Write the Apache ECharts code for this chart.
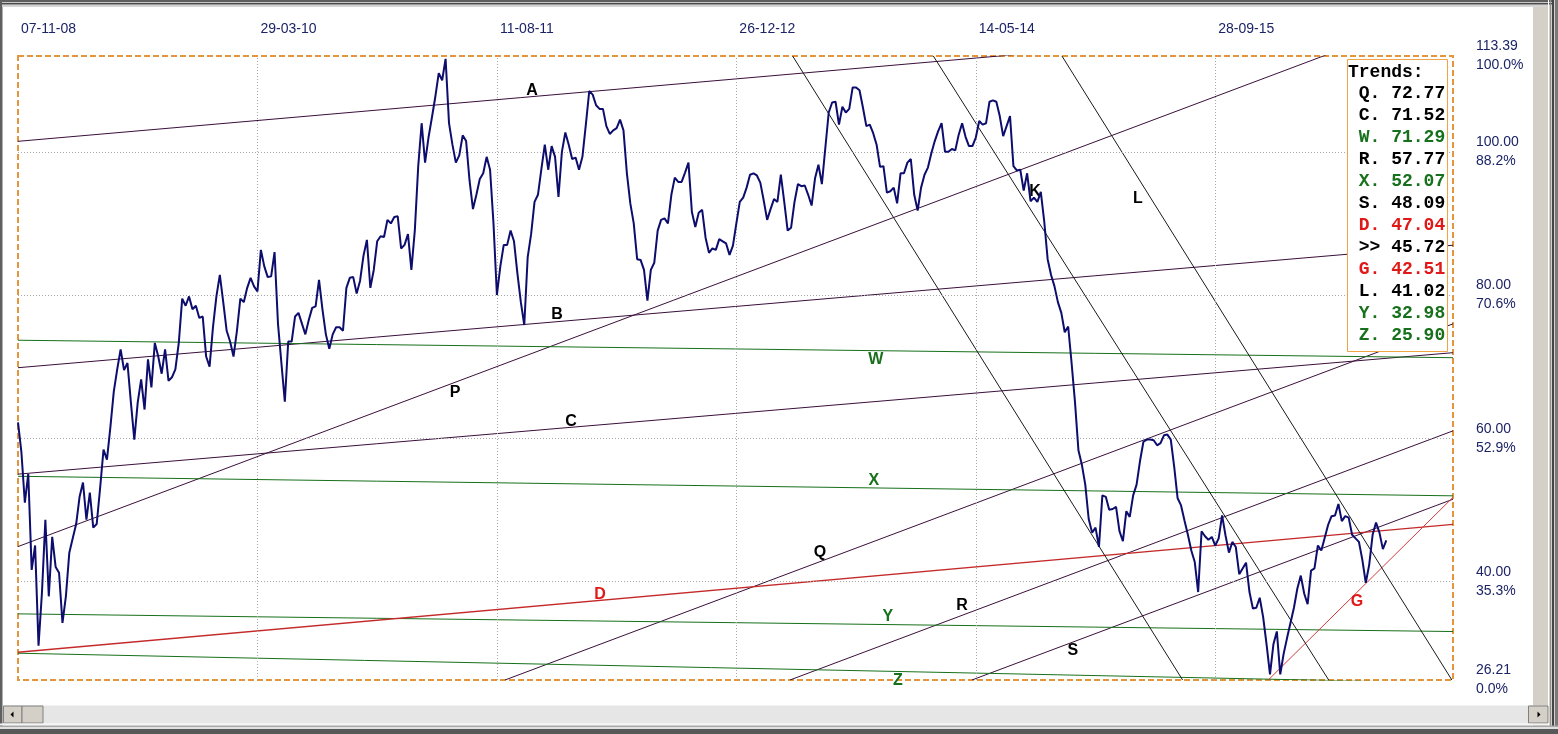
<!DOCTYPE html>
<html><head><meta charset="utf-8">
<script src="https://cdn.jsdelivr.net/npm/echarts@6/dist/echarts.min.js"></script>
<style>html,body{margin:0;padding:0;background:#fff;}#c{width:1558px;height:734px;}</style>
</head><body><div id="c"></div>
<script>
// ---- data ----
const xTickValues = [0, 70, 140, 210, 280, 350];            // weeks from start
const xTickLabels = ['07-11-08', '29-03-10', '11-08-11', '26-12-12', '14-05-14', '28-09-15'];
const yTickValues = [26.21, 40, 60, 80, 100, 113.39];
const yTickPct = ['0.0%', '35.3%', '52.9%', '70.6%', '88.2%', '100.0%'];

// weekly closes
const prices = [
62.2,58,51,55,41.6,45,31,38.4,48.6,37.9,
46.2,42,41.2,34.2,37.9,44,46,48,51.8,53.8,
48.6,52.4,47.5,48,53,58.4,57,61.5,66.5,69.6,
72.4,69.5,70.5,65,59.8,65,68.2,64,71,67.1,
73.3,71.4,69,72.4,68,68.5,69.6,73.3,79.5,78.5,
79.8,78,78.5,76.8,77,71.4,70,75.5,79.8,82.8,
79,75,73.5,71.4,75,79.5,79,81,82.4,81.2,
80.5,86.3,84,82.5,82.6,86,76,70.5,65.1,73.5,
73.5,77,77.5,76,74.5,76.5,78.2,78.4,82.1,78,
74.5,72.5,74.5,75.5,75.5,75,81,82.4,82.5,80.2,
82,85.5,87.7,81,83.5,87.5,88.2,88.1,90.5,90,
90.9,91,86.5,87,88.5,83.5,89,98,104,98.5,
102,104.8,107.7,111,110,113,104,101,98.5,99.5,
102.3,101.5,96,92,94,96.2,97,99.3,97.5,90,
80,84,87,87,89,87.5,83,79,75.8,85.3,
88.5,93,94,97.6,101,97.5,100.8,99.3,93.7,100,
102.7,101,99,99.2,97.5,99.3,103.8,108.5,108,106.5,
106,106,103.6,102.5,103,103.3,104.5,103,97,92.8,
90,85,84.9,83.5,79.2,83.5,84.5,89,90.5,90.7,
90,94,96.4,95.8,95.8,97.1,98.5,91.6,89.5,91.5,
91.9,88,85.9,86.5,86.3,87.8,87.5,87.2,85.6,86.9,
90,93,93.6,95,96.8,97,96.7,95.7,93.2,90.5,
92,93.4,93,96.8,93,89,89.4,93,95.5,95.2,
95.3,94,92.5,96.3,98.2,95.5,100.5,105.5,106.9,107,
103.8,106.3,105.5,106,109,109,108.6,106.2,103.6,103.8,
102.6,101,97.9,98,94.3,94.5,95,92.8,97,97,
98.5,99,94,91.8,95,96.8,97.8,99.8,101.5,102.9,
104,100,100,100.4,100.2,102.4,104,102.1,100.8,100.8,
102,104.3,103.8,104,107,107.2,107,105,102.2,103.6,
105,98,97.4,97.5,94.6,97,93.1,93.6,93,94.4,
90.3,85,82.8,81.2,79,77.5,74.8,75.6,70.5,65,
58.3,56.3,53.5,48.7,46.8,47.5,44.8,52,51.8,50,
50.1,50.4,47,45.6,49.8,49,52,53.5,56.8,59.5,
59.8,59.8,59.7,59,59.3,60.4,60.5,59.8,56,51.6,
50.6,48.5,46.5,44.3,42.7,38.5,47,46.3,45.8,46.2,
45,46,49.2,46.4,44,45.5,44.8,41,41.8,42.6,
38.5,36.2,36.3,37.7,35,31.2,27,31.2,33,27,
29.9,32.1,34.2,36.3,39,40.8,38.3,36.8,41.5,41.8,
45,44.3,46.1,47.9,49.1,49.2,50.8,48.4,49.1,48.9,
46.5,46,45.5,43,39.8,42.3,46.5,48.2,46.8,44.5,
45.72
];

// trend lines: [name, week0, value0, week1, value1]
const trendLines = [
  ['A', 0, 101.47, 419.5, 118.9],
  ['B', 0, 69.84, 419.5, 86.95],
  ['C', 0, 54.97, 419.5, 71.94],
  ['P', 0, 44.85, 419.5, 120.2],
  ['Q', 142.36, 26.21, 419.5, 75.97],
  ['R', 225.67, 26.21, 419.5, 61.02],
  ['S', 278.87, 26.21, 419.5, 51.47],
  ['W', 0, 73.68, 419.5, 71.24],
  ['X', 0, 54.67, 419.5, 51.94],
  ['Y', 0, 35.45, 419.5, 32.98],
  ['Z', 0, 29.95, 419.5, 25.79],
  ['D', 0, 30.09, 419.5, 47.96],
  ['G', 365.5, 26.21, 419.5, 51.73],
  ['J', 226.45, 113.39, 340.46, 26.21],
  ['K', 267.58, 113.39, 383.16, 26.21],
  ['L', 305.18, 113.39, 419.18, 26.21]
];

// line name labels: [text, week, value]
const lineLabels = [
  ['A', 150.25, 108.52], ['B', 157.56, 77.24], ['P', 127.74, 66.35], ['C', 161.65, 62.30],
  ['W', 250.80, 70.96], ['X', 250.22, 54.07], ['Q', 234.44, 44.01], ['D', 170.13, 38.15],
  ['Y', 254.31, 35.08], ['R', 275.94, 36.61], ['Z', 257.23, 26.14], ['S', 308.39, 30.33],
  ['L', 327.39, 93.44], ['G', 391.41, 37.17], ['K', 297.28, 94.42]
];

// "Trends:" panel
const trendNames = ['Q', 'C', 'W', 'R', 'X', 'S', 'D', '>>', 'G', 'L', 'Y', 'Z'];
const trendValues = [72.77, 71.52, 71.29, 57.77, 52.07, 48.09, 47.04, 45.72, 42.51, 41.02, 32.98, 25.90];

// ---- styles ----
const NAVY = '#1c2466';
const GREEN = '#17701b';
const RED = '#e01818';
const PURPLE = '#3a0f3a';
const BLACK = '#1a1a1a';
function lineColor(n) {
  if (['W', 'X', 'Y', 'Z'].includes(n)) return GREEN;
  if (n === 'D') return '#c42a2a';
  if (n === 'G') return '#d23a3a';
  if (['J', 'K', 'L'].includes(n)) return BLACK;
  return PURPLE;
}
function textColor(n) {
  if (['W', 'X', 'Y', 'Z'].includes(n)) return GREEN;
  if (n === 'D' || n === 'G') return RED;
  return '#000';
}

const chart = echarts.init(document.getElementById('c'), null, {renderer: 'canvas'});

const series = [];
// grid lines
series.push({
  type: 'line', data: [[0, 26.21]], showSymbol: false, silent: true, z: 1,
  lineStyle: {opacity: 0},
  markLine: {
    silent: true, symbol: 'none', animation: false, label: {show: false},
    lineStyle: {color: '#a8a8a8', type: [1, 2], width: 1},
    data: yTickValues.slice(1, -1).map(v => ({yAxis: v}))
      .concat(xTickValues.slice(1).map(v => ({xAxis: v})))
  }
});
trendLines.forEach(t => {
  series.push({
    type: 'line', name: t[0], data: [[t[1], t[2]], [t[3], t[4]]],
    showSymbol: false, symbol: 'none', clip: true, silent: true, z: 3,
    lineStyle: {width: t[0] === 'D' ? 1.3 : 1, color: lineColor(t[0])}
  });
});
series.push({
  type: 'scatter', data: lineLabels.map(l => ({name: l[0], value: [l[1], l[2]],
    label: {color: textColor(l[0])}})),
  symbolSize: 1, itemStyle: {color: 'rgba(255,255,255,0)'}, clip: false, silent: true, z: 4,
  label: {show: true, position: 'inside', formatter: '{b}', fontSize: 16, fontWeight: 'bold',
    fontFamily: 'Liberation Sans', textBorderWidth: 0, textBorderColor: 'transparent',
    textShadowBlur: 0, opacity: 1}
});
series.push({
  type: 'line', data: prices.map((v, i) => [i, v]), showSymbol: false, symbol: 'none',
  silent: true, z: 5, lineStyle: {width: 2, color: '#0d0d6e'}
});

// panel + window chrome
const graphic = [];
function rect(x, y, w, h, fill, stroke) {
  graphic.push({type: 'rect', silent: true, z: 100, shape: {x, y, width: w, height: h},
    style: {fill: fill, stroke: stroke || null, lineWidth: stroke ? 1 : 0}});
}
rect(1347.5, 59.5, 100, 292, '#ffffff', '#efa546');
graphic.push({type: 'text', silent: true, z: 101, x: 1348, y: 72,
  style: {text: 'Trends:', fontSize: 18, fontWeight: 'bold', fontFamily: 'Liberation Mono',
    fill: '#000', verticalAlign: 'middle', align: 'left'}});
trendNames.forEach((n, k) => {
  const head = n === '>>' ? ' >> ' : ' ' + n + '. ';
  graphic.push({type: 'text', silent: true, z: 101, x: 1348, y: 93.5 + k * 21.97,
    style: {text: head + trendValues[k].toFixed(2), fontSize: 18, fontWeight: 'bold',
      fontFamily: 'Liberation Mono', fill: textColor(n),
      verticalAlign: 'middle', align: 'left'}});
});
// top border
rect(0, 0, 1558, 2, '#5f5f5f'); rect(0, 2, 1558, 1, '#c8c8c8'); rect(0, 3, 1558, 1, '#4a4a4a');
rect(0, 4, 1558, 1.5, '#9a9a9a'); rect(0, 5.5, 1558, 1.5, '#d6d6d6');
// left border
rect(0, 0, 2, 734, '#606060'); rect(2, 7, 1, 720, '#b0b0b0');
// right strip
rect(1533, 7, 25, 727, '#d4d0c8'); rect(1548, 0, 1, 734, '#ffffff'); rect(1550, 0, 1, 734, '#909090');
rect(1552, 0, 2, 734, '#454545'); rect(1554, 0, 1, 734, '#d4d0c8'); rect(1555, 0, 3, 734, '#7a7a7a');
// scrollbar
rect(3, 705.5, 1545, 18, '#e6e6e6');
rect(3.5, 706, 18.5, 17, '#d4d0c8', '#808080');
rect(22, 706, 21, 17, '#d4d0c8', '#808080');
rect(1528.5, 706, 19.5, 17, '#d4d0c8', '#808080');
graphic.push({type: 'polygon', silent: true, z: 101, shape: {points: [[10.5, 714.5], [13.5, 711.5], [13.5, 717.5]]}, style: {fill: '#000'}});
graphic.push({type: 'polygon', silent: true, z: 101, shape: {points: [[1540.5, 714.5], [1537.5, 711.5], [1537.5, 717.5]]}, style: {fill: '#000'}});
// bottom border
rect(0, 723.5, 1548, 2, '#f4f4f4'); rect(0, 725.5, 1558, 1.5, '#a8a8a8'); rect(0, 727, 1558, 2, '#e0e0e0');
rect(0, 729, 1558, 5, '#585858');

const option = {
  animation: false,
  backgroundColor: '#ffffff',
  grid: {show: true, left: 18, top: 56, width: 1435, height: 624, backgroundColor: 'transparent',
    borderColor: '#e3963e', borderWidth: 2, borderType: [6, 3]},
  xAxis: {
    type: 'value', position: 'top', min: 0, max: 419.5,
    axisLine: {show: false}, axisTick: {show: false}, splitLine: {show: false},
    axisLabel: {customValues: xTickValues, align: 'left', margin: 20, color: NAVY, fontSize: 14,
      fontFamily: 'Liberation Sans', padding: [0, 0, 0, 3],
      formatter: v => { const i = xTickValues.findIndex(t => Math.abs(t - v) < 1e-6); return i < 0 ? '' : xTickLabels[i]; }}
  },
  yAxis: {
    type: 'value', position: 'right', min: 26.21, max: 113.39,
    axisLine: {show: false}, axisTick: {show: false}, splitLine: {show: false},
    axisLabel: {customValues: yTickValues, align: 'left', margin: 23, color: NAVY, fontSize: 14,
      lineHeight: 19, fontFamily: 'Liberation Sans', verticalAlign: 'middle',
      formatter: v => { const i = yTickValues.findIndex(t => Math.abs(t - v) < 1e-6); return i < 0 ? '' : yTickValues[i].toFixed(2) + '\n' + yTickPct[i]; }}
  },
  graphic: graphic,
  series: series
};
chart.setOption(option);
</script>
</body></html>
